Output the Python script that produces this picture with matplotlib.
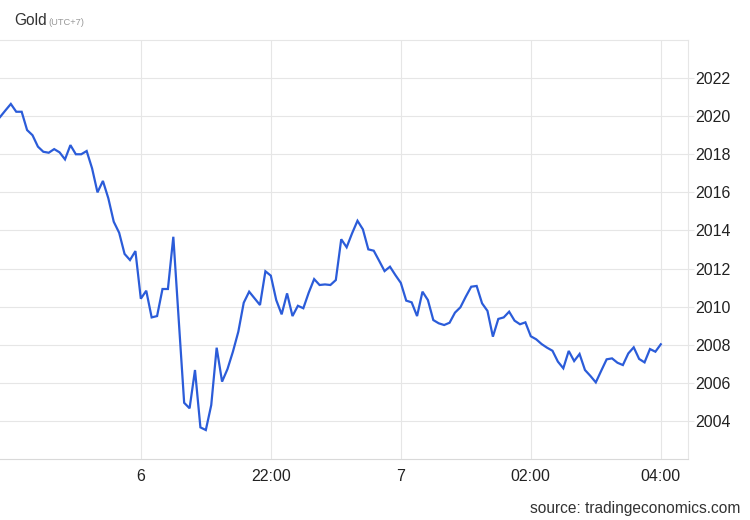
import matplotlib
matplotlib.use("Agg")
import matplotlib.pyplot as plt
import numpy as np

# Gold price, 5-minute samples (local time UTC+7), starting 17:50
start_minutes = 17 * 60 + 50
step_minutes = 5
prices = [
    2019.95, 2020.30, 2020.64, 2020.23, 2020.23, 2019.27, 2019.00, 2018.40, 2018.13, 2018.08,
    2018.27, 2018.10, 2017.73, 2018.48, 2018.00, 2018.00, 2018.17, 2017.26, 2016.00, 2016.60,
    2015.69, 2014.46, 2013.88, 2012.77, 2012.45, 2012.92, 2010.42, 2010.84, 2009.44, 2009.51,
    2010.93, 2010.93, 2013.67, 2009.30, 2004.96, 2004.67, 2006.68, 2003.67, 2003.53, 2004.84,
    2007.85, 2006.07, 2006.73, 2007.64, 2008.69, 2010.21, 2010.79, 2010.44, 2010.09, 2011.86,
    2011.63, 2010.35, 2009.60, 2010.70, 2009.51, 2010.05, 2009.92, 2010.74, 2011.45, 2011.14,
    2011.17, 2011.14, 2011.40, 2013.54, 2013.12, 2013.85, 2014.51, 2014.06, 2013.01, 2012.94,
    2012.41, 2011.87, 2012.10, 2011.66, 2011.25, 2010.32, 2010.23, 2009.51, 2010.79, 2010.35,
    2009.30, 2009.13, 2009.04, 2009.16, 2009.69, 2009.97, 2010.53, 2011.05, 2011.09, 2010.18,
    2009.78, 2008.43, 2009.36, 2009.44, 2009.74, 2009.27, 2009.08, 2009.18, 2008.45, 2008.29,
    2008.04, 2007.85, 2007.69, 2007.12, 2006.77, 2007.68, 2007.15, 2007.52, 2006.68, 2006.37,
    2006.03, 2006.64, 2007.24, 2007.29, 2007.06, 2006.94, 2007.55, 2007.87, 2007.26, 2007.08,
    2007.78, 2007.64, 2008.03,
]

x_tick_hours = [20, 22, 24, 26, 28]
x_tick_labels = ["6", "22:00", "7", "02:00", "04:00"]
y_ticks = [2004, 2006, 2008, 2010, 2012, 2014, 2016, 2018, 2020, 2022]

plt.rcParams["font.family"] = ["Liberation Sans", "DejaVu Sans"]

times = (start_minutes + step_minutes * np.arange(len(prices))) / 60.0

fig = plt.figure(figsize=(7.5, 5.2), dpi=100)
ax = fig.add_axes([0.0, 1 - 459.2 / 520, 688 / 750, (459.2 - 39.9) / 520])

ax.plot(times, prices, color="#2b5cd9", linewidth=1.6, solid_joinstyle="miter")

ax.set_xlim(times[0], 20 + (688 - 140.8) / 65.0)
ax.set_ylim(2002, 2024)

ax.set_yticks(y_ticks)
ax.set_yticklabels([str(v) for v in y_ticks])
ax.set_xticks(x_tick_hours)
ax.set_xticklabels(x_tick_labels)

grid_c = "#e6e6e6"
ax.grid(True, color=grid_c, linewidth=0.8)
ax.set_axisbelow(True)

ax.yaxis.tick_right()
ax.tick_params(axis="y", which="both", length=4, width=0.8, color=grid_c,
               labelsize=11.5, labelcolor="#222222", pad=1.5, direction="out")
ax.tick_params(axis="x", length=0, labelsize=11.5, labelcolor="#222222", pad=7)

ax.spines["left"].set_visible(False)
ax.spines["top"].set_color(grid_c)
ax.spines["top"].set_linewidth(0.8)
ax.spines["right"].set_color(grid_c)
ax.spines["right"].set_linewidth(0.8)
ax.spines["bottom"].set_color("#d9d9d9")
ax.spines["bottom"].set_linewidth(0.8)

fig.text(14 / 750, 1 - 25 / 520, "Gold", fontsize=11.2, color="#333333", va="baseline", ha="left")
fig.text(48 / 750, 1 - 25 / 520, "(UTC+7)", fontsize=6.7, color="#999999", va="baseline", ha="left")
fig.text(740 / 750, 1 - 513 / 520, "source: tradingeconomics.com", fontsize=11.2,
         color="#333333", va="baseline", ha="right")

fig.savefig("out.png", dpi=100)
